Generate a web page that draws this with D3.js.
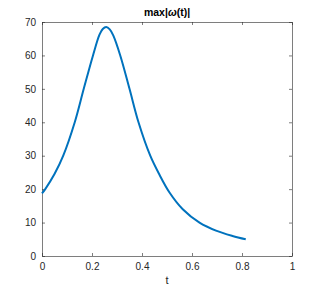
<!DOCTYPE html>
<html>
<head>
<meta charset="utf-8">
<script src="https://cdn.jsdelivr.net/npm/d3@7"></script>
<style>
  body { margin: 0; background: #fff; }
  .axis text { font-family: "Liberation Sans", Arial, sans-serif; font-size: 10px; fill: #262626; }
  .axis line, .axis path { stroke: #262626; stroke-width: 0.6; }
</style>
</head>
<body>
<div id="chart"></div>
<script>
// values
const tValues = [0, 0.013, 0.05, 0.085, 0.131, 0.167, 0.204, 0.23, 0.243, 0.257, 0.271, 0.285, 0.313, 0.35, 0.386, 0.433, 0.47, 0.51, 0.563, 0.63, 0.696, 0.762, 0.815];
const omegaMax = [18.7, 20, 24.5, 30, 40, 50, 60, 66.2, 67.9, 68.5, 67.8, 66.0, 60, 50, 40, 30, 24.3, 19.0, 14.0, 10.0, 7.6, 6.0, 5.0];
const xTicks = [0, 0.2, 0.4, 0.6, 0.8, 1];
const yTicks = [0, 10, 20, 30, 40, 50, 60, 70];

const outerWidth = 324, outerHeight = 288;
const margin = {top: 22, right: 32, bottom: 32, left: 42};
const width = outerWidth - margin.left - margin.right;
const height = outerHeight - margin.top - margin.bottom;

const svg = d3.select("#chart")
    .append("svg")
    .attr("width", outerWidth)
    .attr("height", outerHeight);

const g = svg.append("g")
    .attr("transform", `translate(${margin.left}, ${margin.top})`);

const xScale = d3.scaleLinear().domain([0, 1]).range([0, width]);
const yScale = d3.scaleLinear().domain([0, 70]).range([height, 0]);

const fmt = d => d3.format("")(d);

// bottom / left axes with inward ticks
g.append("g")
    .attr("class", "x axis")
    .attr("transform", `translate(0, ${height})`)
    .call(d3.axisBottom(xScale).tickValues(xTicks).tickFormat(fmt).tickSizeInner(-3).tickSizeOuter(0).tickPadding(7));

g.append("g")
    .attr("class", "y axis")
    .call(d3.axisLeft(yScale).tickValues(yTicks).tickFormat(fmt).tickSizeInner(-3).tickSizeOuter(0).tickPadding(6));

// top / right axes, ticks only
g.append("g")
    .attr("class", "axis")
    .call(d3.axisTop(xScale).tickValues(xTicks).tickFormat("").tickSizeInner(-3).tickSizeOuter(0));

g.append("g")
    .attr("class", "axis")
    .attr("transform", `translate(${width}, 0)`)
    .call(d3.axisRight(yScale).tickValues(yTicks).tickFormat("").tickSizeInner(-3).tickSizeOuter(0));

const line = d3.line()
    .x((d, i) => xScale(tValues[i]))
    .y(d => yScale(d))
    .curve(d3.curveCatmullRom.alpha(0.5));

g.append("path")
    .datum(omegaMax)
    .attr("fill", "none")
    .attr("stroke", "#0072BD")
    .attr("stroke-width", 2)
    .attr("d", line);

// title
const title = svg.append("text")
    .attr("x", margin.left + width / 2)
    .attr("y", 16)
    .attr("text-anchor", "middle")
    .style("font-family", "'Liberation Sans', Arial, sans-serif")
    .style("font-size", "10.5px")
    .style("font-weight", "bold")
    .style("fill", "#000");
title.append("tspan").text("max|");
title.append("tspan").style("font-style", "italic").text("ω");
title.append("tspan").text("(t)|");

// x label
svg.append("text")
    .attr("x", margin.left + width / 2)
    .attr("y", 284)
    .attr("text-anchor", "middle")
    .style("font-family", "'Liberation Sans', Arial, sans-serif")
    .style("font-size", "11px")
    .style("fill", "#262626")
    .text("t");
</script>
</body>
</html>
